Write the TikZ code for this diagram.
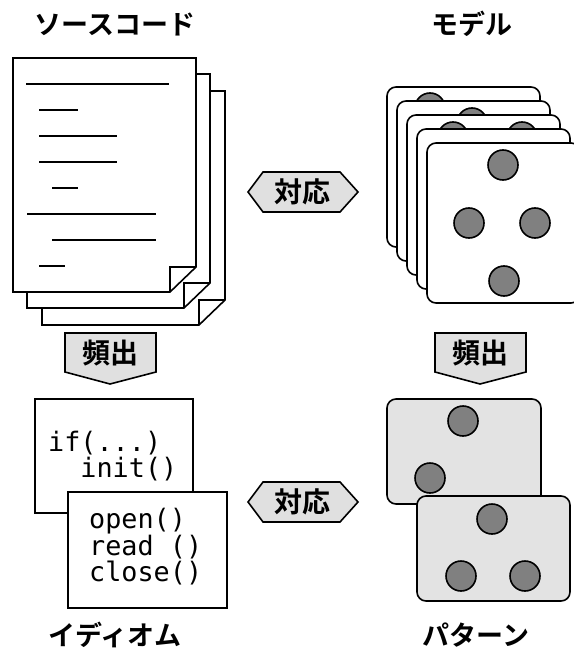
\documentclass[tikz,border=0pt]{standalone}
\usepackage{fontspec}
\newfontfamily\jpfont{Noto Sans CJK JP}[BoldFont={Noto Sans CJK JP Bold}]
\newfontfamily\codefont{DejaVu Sans Mono}
\definecolor{tagfill}{gray}{0.88}
\definecolor{cardfill}{gray}{0.89}
\definecolor{dotfill}{gray}{0.5}
\tikzset{
  title/.style={font=\jpfont\bfseries\fontsize{27}{30}\selectfont},
  tagtext/.style={font=\jpfont\bfseries\fontsize{28}{32}\selectfont},
  tag/.style={draw,line width=1.6pt,fill=tagfill,line join=miter},
  sheet/.style={draw,line width=1.6pt,fill=white,line join=miter},
  txtline/.style={line width=1.6pt},
  card/.style={draw,line width=1.6pt,rounded corners=9pt},
  dot/.style={circle,draw,fill=dotfill,line width=1.6pt,minimum size=30pt,inner sep=0pt},
  code/.style={font=\codefont\fontsize{26.8}{26.5}\selectfont,anchor=base west,inner sep=0pt}
}
\begin{document}
\begin{tikzpicture}[x=1pt,y=-1pt]
\useasboundingbox (0,0) rectangle (573,652);

% titles
\node [title] (srcT) at (115,24) {ソースコード};
\node [title] (modelT) at (472,24) {モデル};
\node [title] (idiomT) at (115,635) {イディオム};
\node [title] (patT) at (476,635) {パターン};

% source code sheets
\foreach \dx/\dy in {29/33,14/16,0/0} {
  \draw [sheet] (13+\dx,58+\dy) -- ++(183,0) -- ++(0,209) -- ++(-26,25) -- ++(-157,0) -- cycle;
  \draw [sheet,fill=none] (170+\dx,292+\dy) -- ++(0,-25) -- ++(26,0);
}
\draw [txtline] (26,84) -- (169,84);
\draw [txtline] (39,110) -- (78,110);
\draw [txtline] (39,136) -- (117,136);
\draw [txtline] (39,162) -- (117,162);
\draw [txtline] (52,188) -- (78,188);
\draw [txtline] (27,214) -- (156,214);
\draw [txtline] (52,240) -- (156,240);
\draw [txtline] (39,266) -- (65,266);

% model cards
\draw [card,fill=white] (387,87) rectangle ++(153,160);
\node [dot] (m1) at (430,108) {};
\draw [card,fill=white] (397,101) rectangle ++(153,160);
\node [dot] (m2) at (472,123) {};
\draw [card,fill=white] (407,115) rectangle ++(153,160);
\node [dot] (m3) at (453,137) {};
\node [dot] (m4) at (522,137) {};
\draw [card,fill=white] (417,129) rectangle ++(153,160);
\draw [card,fill=white] (427,143) rectangle ++(153,160);
\node [dot] (m5) at (503,165) {};
\node [dot] (m6) at (469,223) {};
\node [dot] (m7) at (535,223) {};
\node [dot] (m8) at (504,281) {};

% correspondence tags
\draw [tag] (248,192) -- (263,172) -- (340,172) -- (358,192) -- (340,212) -- (263,212) -- cycle;
\node [tagtext] (corrA) at (302,192) {対応};
\draw [tag] (248,502) -- (263,482) -- (340,482) -- (358,502) -- (340,522) -- (263,522) -- cycle;
\node [tagtext] (corrB) at (302,502) {対応};

% frequency tags
\draw [tag] (65,333) -- (156,333) -- (156,372) -- (110,384) -- (65,372) -- cycle;
\node [tagtext] (freqA) at (110,353) {頻出};
\draw [tag] (435,333) -- (526,333) -- (526,372) -- (480,384) -- (435,372) -- cycle;
\node [tagtext] (freqB) at (480,353) {頻出};

% idioms
\draw [sheet] (35,399) rectangle (193,513);
\node [code] (c1) at (48,451) {if(...)};
\node [code] (c2) at (48,477) {\phantom{if}init()};
\draw [sheet] (68,492) rectangle (227,608);
\node [code] (c3) at (89,528) {open()};
\node [code] (c4) at (89,555) {read\ ()};
\node [code] (c5) at (89,581) {close()};

% patterns
\draw [card,fill=cardfill] (387,399) rectangle (541,504);
\node [dot] (p1) at (463,421) {};
\node [dot] (p2) at (430,478) {};
\draw [card,fill=cardfill] (417,496) rectangle (570,601);
\node [dot] (p3) at (492,519) {};
\node [dot] (p4) at (461,576) {};
\node [dot] (p5) at (525,576) {};
\end{tikzpicture}
\end{document}
